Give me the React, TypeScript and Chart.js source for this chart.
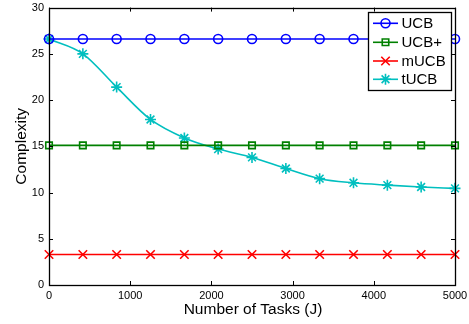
import React, { useEffect, useRef } from "react";
import { Chart, registerables } from "chart.js";

Chart.register(...registerables);

const tasks = [0, 417, 833, 1250, 1667, 2083, 2500, 2917, 3333, 3750, 4167, 4583, 5000];
const ucb = [26.6, 26.6, 26.6, 26.6, 26.6, 26.6, 26.6, 26.6, 26.6, 26.6, 26.6, 26.6, 26.6];
const ucbPlus = [15.1, 15.1, 15.1, 15.1, 15.1, 15.1, 15.1, 15.1, 15.1, 15.1, 15.1, 15.1, 15.1];
const mucb = [3.3, 3.3, 3.3, 3.3, 3.3, 3.3, 3.3, 3.3, 3.3, 3.3, 3.3, 3.3, 3.3];
const tucb = [26.6, 25.0, 21.4, 17.9, 15.9, 14.7, 13.8, 12.6, 11.5, 11.05, 10.8, 10.6, 10.45];

const xTicks = [0, 1000, 2000, 3000, 4000, 5000];
const yTicks = [0, 5, 10, 15, 20, 25, 30];

const xTitle = "Number of Tasks (J)";
const yTitle = "Complexity";

const seriesNames = ["UCB", "UCB+", "mUCB", "tUCB"];
const seriesColors = ["#0000ff", "#008000", "#ff0000", "#00bfbf"];
const seriesMarkers = ["circle", "rect", "crossRot", "star"];
const markerRadius = [4.5, 4.6, 6, 5.5];

const FONT = "'Liberation Sans', Arial, Helvetica, sans-serif";

function drawMarker(ctx: CanvasRenderingContext2D, style: string, r: number, x: number, y: number, color: string) {
  ctx.save();
  ctx.strokeStyle = color;
  ctx.lineWidth = 1.6;
  ctx.beginPath();
  if (style === "circle") {
    ctx.arc(x, y, r, 0, Math.PI * 2);
  } else if (style === "rect") {
    const s = r * Math.SQRT1_2;
    ctx.rect(x - s, y - s, 2 * s, 2 * s);
  } else if (style === "crossRot") {
    const o = r * Math.SQRT1_2;
    ctx.moveTo(x - o, y - o);
    ctx.lineTo(x + o, y + o);
    ctx.moveTo(x - o, y + o);
    ctx.lineTo(x + o, y - o);
  } else if (style === "star") {
    const o = r * Math.SQRT1_2;
    ctx.moveTo(x - o, y - o);
    ctx.lineTo(x + o, y + o);
    ctx.moveTo(x - o, y + o);
    ctx.lineTo(x + o, y - o);
    ctx.moveTo(x, y - r);
    ctx.lineTo(x, y + r);
    ctx.moveTo(x - r, y);
    ctx.lineTo(x + r, y);
  }
  ctx.stroke();
  ctx.restore();
}

const axesPlugin = {
  id: "matlabAxes",
  afterDatasetsDraw(chart: any) {
    const { ctx, chartArea } = chart;
    const { left, right, top, bottom } = chartArea;
    const xs = chart.scales.x;
    const ys = chart.scales.y;
    ctx.save();
    ctx.strokeStyle = "#000";
    ctx.lineWidth = 1;
    const tl = 4;
    ctx.beginPath();
    for (const t of xTicks) {
      const px = Math.round(xs.getPixelForValue(t)) + 0.5;
      ctx.moveTo(px, bottom);
      ctx.lineTo(px, bottom - tl);
      ctx.moveTo(px, top);
      ctx.lineTo(px, top + tl);
    }
    for (const t of yTicks) {
      const py = Math.round(ys.getPixelForValue(t)) + 0.5;
      ctx.moveTo(left, py);
      ctx.lineTo(left + tl, py);
      ctx.moveTo(right, py);
      ctx.lineTo(right - tl, py);
    }
    ctx.stroke();
    ctx.lineWidth = 1.3;
    ctx.strokeRect(Math.round(left) + 0.5, Math.round(top) + 0.5, Math.round(right - left), Math.round(bottom - top));

    // axis titles
    ctx.fillStyle = "#000";
    ctx.font = `15.5px ${FONT}`;
    ctx.textAlign = "center";
    ctx.textBaseline = "alphabetic";
    ctx.fillText(xTitle, (left + right) / 2 + 1, 314);
    ctx.save();
    ctx.translate(26, (top + bottom) / 2);
    ctx.rotate(-Math.PI / 2);
    ctx.fillText(yTitle, 0, 0);
    ctx.restore();

    // legend
    const lx = 368, ly = 12, lw = 83, lh = 78;
    ctx.fillStyle = "#fff";
    ctx.fillRect(lx, ly, lw, lh);
    ctx.lineWidth = 1.3;
    ctx.strokeStyle = "#000";
    ctx.strokeRect(lx + 0.5, ly + 0.5, lw, lh);
    const rows = [23.3, 42.3, 61, 79.3];
    ctx.font = `15px ${FONT}`;
    ctx.textBaseline = "middle";
    ctx.textAlign = "left";
    for (let i = 0; i < seriesNames.length; i++) {
      const y = rows[i];
      ctx.strokeStyle = seriesColors[i];
      ctx.lineWidth = 1.6;
      ctx.beginPath();
      ctx.moveTo(373, y);
      ctx.lineTo(398, y);
      ctx.stroke();
      drawMarker(ctx, seriesMarkers[i], markerRadius[i], 385.5, y, seriesColors[i]);
      ctx.fillStyle = "#000";
      ctx.fillText(seriesNames[i], 401.5, y + 0.5);
    }
    ctx.restore();
  },
};

export default function App() {
  const ref = useRef<HTMLCanvasElement>(null);
  useEffect(() => {
    if (!ref.current) return;
    const allSeries = [ucb, ucbPlus, mucb, tucb];
    const chart = new Chart(ref.current, {
      type: "line",
      data: {
        datasets: allSeries.map((vals, i) => ({
          label: seriesNames[i],
          data: tasks.map((t, j) => ({ x: t, y: vals[j] })),
          borderColor: seriesColors[i],
          backgroundColor: "transparent",
          borderWidth: 1.6,
          pointStyle: seriesMarkers[i] as any,
          pointRadius: markerRadius[i],
          pointBorderWidth: 1.6,
          pointBorderColor: seriesColors[i],
          pointBackgroundColor: "transparent",
          tension: i === 3 ? 0.4 : 0,
          cubicInterpolationMode: i === 3 ? "monotone" : "default",
          clip: false as any,
          fill: false,
        })),
      },
      options: {
        animation: false,
        responsive: false,
        devicePixelRatio: 1,
        layout: { padding: { left: 0, right: 14, top: 7, bottom: 0 } },
        plugins: { legend: { display: false }, tooltip: { enabled: false } },
        scales: {
          x: {
            type: "linear",
            min: 0,
            max: 5000,
            afterFit: (s: any) => { s.height = 39; s.paddingLeft = 0; s.paddingRight = 0; s.paddingTop = 0; s.paddingBottom = 0; },
            afterBuildTicks: (s: any) => { s.ticks = xTicks.map((v) => ({ value: v })); },
            grid: { display: false, drawTicks: false },
            border: { display: false },
            ticks: { color: "#000", padding: 4, maxRotation: 0, autoSkip: false, font: { family: FONT, size: 11 }, callback: (v: any) => String(v) },
            title: { display: false },
          },
          y: {
            type: "linear",
            min: 0,
            max: 30,
            afterFit: (s: any) => { s.width = 49; s.paddingLeft = 0; s.paddingRight = 0; s.paddingTop = 0; s.paddingBottom = 0; },
            afterBuildTicks: (s: any) => { s.ticks = yTicks.map((v) => ({ value: v })); },
            grid: { display: false, drawTicks: false },
            border: { display: false },
            ticks: { color: "#000", padding: 5, autoSkip: false, font: { family: FONT, size: 11 }, callback: (v: any) => String(v) },
            title: { display: false },
          },
        },
      },
      plugins: [axesPlugin],
    });
    return () => chart.destroy();
  }, []);
  return (
    <div style={{ position: "fixed", left: 0, top: 0, width: 469, height: 324, background: "#fff" }}>
      <canvas ref={ref} width={469} height={324} style={{ display: "block", width: 469, height: 324 }} />
    </div>
  );
}
